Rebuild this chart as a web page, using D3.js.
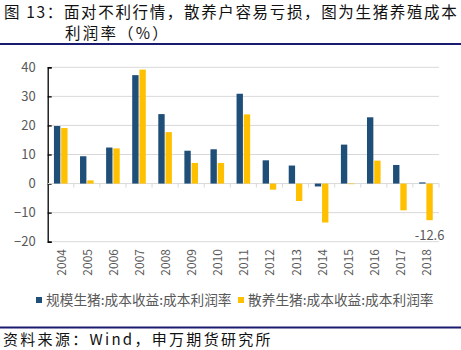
<!DOCTYPE html>
<html><head><meta charset="utf-8">
<script src="https://cdn.jsdelivr.net/npm/d3@7"></script>
<style>body{margin:0;background:#fff}svg{display:block}</style>
</head><body>
<script>
const years = ["2004","2005","2006","2007","2008","2009","2010","2011","2012","2013","2014","2015","2016","2017","2018"];
const scaleFarm = [19.8, 9.4, 12.4, 37.3, 23.9, 11.3, 11.8, 30.9, 8.0, 6.2, -1.0, 13.4, 22.8, 6.4, 0.4];
const backyard = [19.1, 1.1, 12.1, 39.2, 17.7, 7.1, 7.1, 23.8, -2.1, -6.0, -13.4, -0.2, 7.9, -9.2, -12.6];
const seriesNames = ["规模生猪:成本收益:成本利润率", "散养生猪:成本收益:成本利润率"];
const yTicks = [-20, -10, 0, 10, 20, 30, 40];
const titleLine1 = "图 13：面对不利行情，散养户容易亏损，图为生猪养殖成本";
const titleLine2 = "利润率（%）";
const sourceText = "资料来源：Wind，申万期货研究所";

const W = 461, H = 350;
const colors = ["#1f4e79", "#ffc000"];
const font = "'Noto Sans CJK SC', 'Noto Sans', sans-serif";
const svg = d3.select("body").append("svg").attr("width", W).attr("height", H)
  .style("font-family", font);

// title
svg.append("text").attr("x", 4).attr("y", 18).attr("font-size", 15.5).attr("fill", "#111")
  .style("letter-spacing", "1.65px").text(titleLine1);
svg.append("text").attr("x", 65).attr("y", 39).attr("font-size", 15.5).attr("fill", "#111")
  .style("letter-spacing", "2.2px").text(titleLine2);
svg.append("line").attr("x1", 0).attr("x2", W).attr("y1", 44).attr("y2", 44)
  .attr("stroke", "#1a1a6e").attr("stroke-width", 2);

// scales
const x = d3.scaleBand().domain(years).range([47.7, 439]).paddingInner(0).paddingOuter(0);
const y = d3.scaleLinear().domain([-20, 40]).range([241.7, 67.3]);
const xs = d3.scaleBand().domain([0, 1]).range([-6.8, 6.8]).paddingInner(0.12);

// gridlines
svg.append("g").selectAll("line").data(yTicks.filter(t => t !== 0)).join("line")
  .attr("x1", 47.7).attr("x2", 439).attr("y1", d => y(d)).attr("y2", d => y(d))
  .attr("stroke", "#d9d9d9").attr("stroke-width", 1);

// y axis
const yAxis = svg.append("g").attr("transform", "translate(47.7,0)")
  .call(d3.axisLeft(y).tickValues(yTicks).tickSize(-4).tickPadding(12).tickFormat(d3.format("d")));
yAxis.select(".domain").attr("stroke", "#000").attr("stroke-width", 1.3);
yAxis.selectAll(".tick line").attr("stroke", "#000").attr("stroke-width", 1.3);
yAxis.selectAll(".tick text").attr("fill", "#595959").attr("font-size", 13).attr("font-family", font);

// zero line with category ticks
const xAxis = svg.append("g").attr("transform", `translate(0,${y(0)})`);
xAxis.append("line").attr("x1", 47.7).attr("x2", 439).attr("stroke", "#d9d9d9").attr("stroke-width", 1);
xAxis.selectAll("line.tk").data(years).join("line").attr("class", "tk")
  .attr("x1", (d, i) => 47.7 + (i + 1) * x.bandwidth()).attr("x2", (d, i) => 47.7 + (i + 1) * x.bandwidth())
  .attr("y1", 0).attr("y2", 4).attr("stroke", "#d9d9d9");

// bars
const data = years.map((yr, i) => ({ yr, vals: [scaleFarm[i], backyard[i]] }));
const g = svg.append("g");
data.forEach(d => {
  d.vals.forEach((v, k) => {
    const cx = x(d.yr) + x.bandwidth() / 2;
    g.append("rect")
      .attr("x", cx + xs(k)).attr("width", xs.bandwidth())
      .attr("y", y(Math.max(0, v))).attr("height", Math.abs(y(v) - y(0)))
      .attr("fill", colors[k]);
  });
});

// data label for last backyard value
const lastIdx = years.length - 1;
svg.append("text")
  .attr("x", x(years[lastIdx]) + x.bandwidth() / 2 + xs(1) + xs.bandwidth() / 2)
  .attr("y", y(backyard[lastIdx]) + 20)
  .attr("text-anchor", "middle").attr("font-size", 13).attr("fill", "#595959")
  .text(backyard[lastIdx].toFixed(1));

// x labels rotated
svg.append("g").selectAll("text").data(years).join("text")
  .attr("transform", d => `translate(${x(d) + x.bandwidth() / 2 + 5},249) rotate(-90)`)
  .attr("text-anchor", "end").attr("font-size", 12).attr("fill", "#595959").text(d => d);

// legend
const leg = svg.append("g");
const legX = [36, 238];
seriesNames.forEach((n, k) => {
  leg.append("rect").attr("x", legX[k]).attr("y", 297).attr("width", 6).attr("height", 6).attr("fill", colors[k]);
  leg.append("text").attr("x", legX[k] + 10).attr("y", 305).attr("font-size", 13.7).attr("fill", "#595959").text(n);
});

// bottom line and source
svg.append("line").attr("x1", 0).attr("x2", W).attr("y1", 327.5).attr("y2", 327.5)
  .attr("stroke", "#1a1a6e").attr("stroke-width", 2);
svg.append("text").attr("x", 3).attr("y", 345).attr("font-size", 15).attr("fill", "#111")
  .style("letter-spacing", "2.3px").text(sourceText);
</script>
</body></html>
